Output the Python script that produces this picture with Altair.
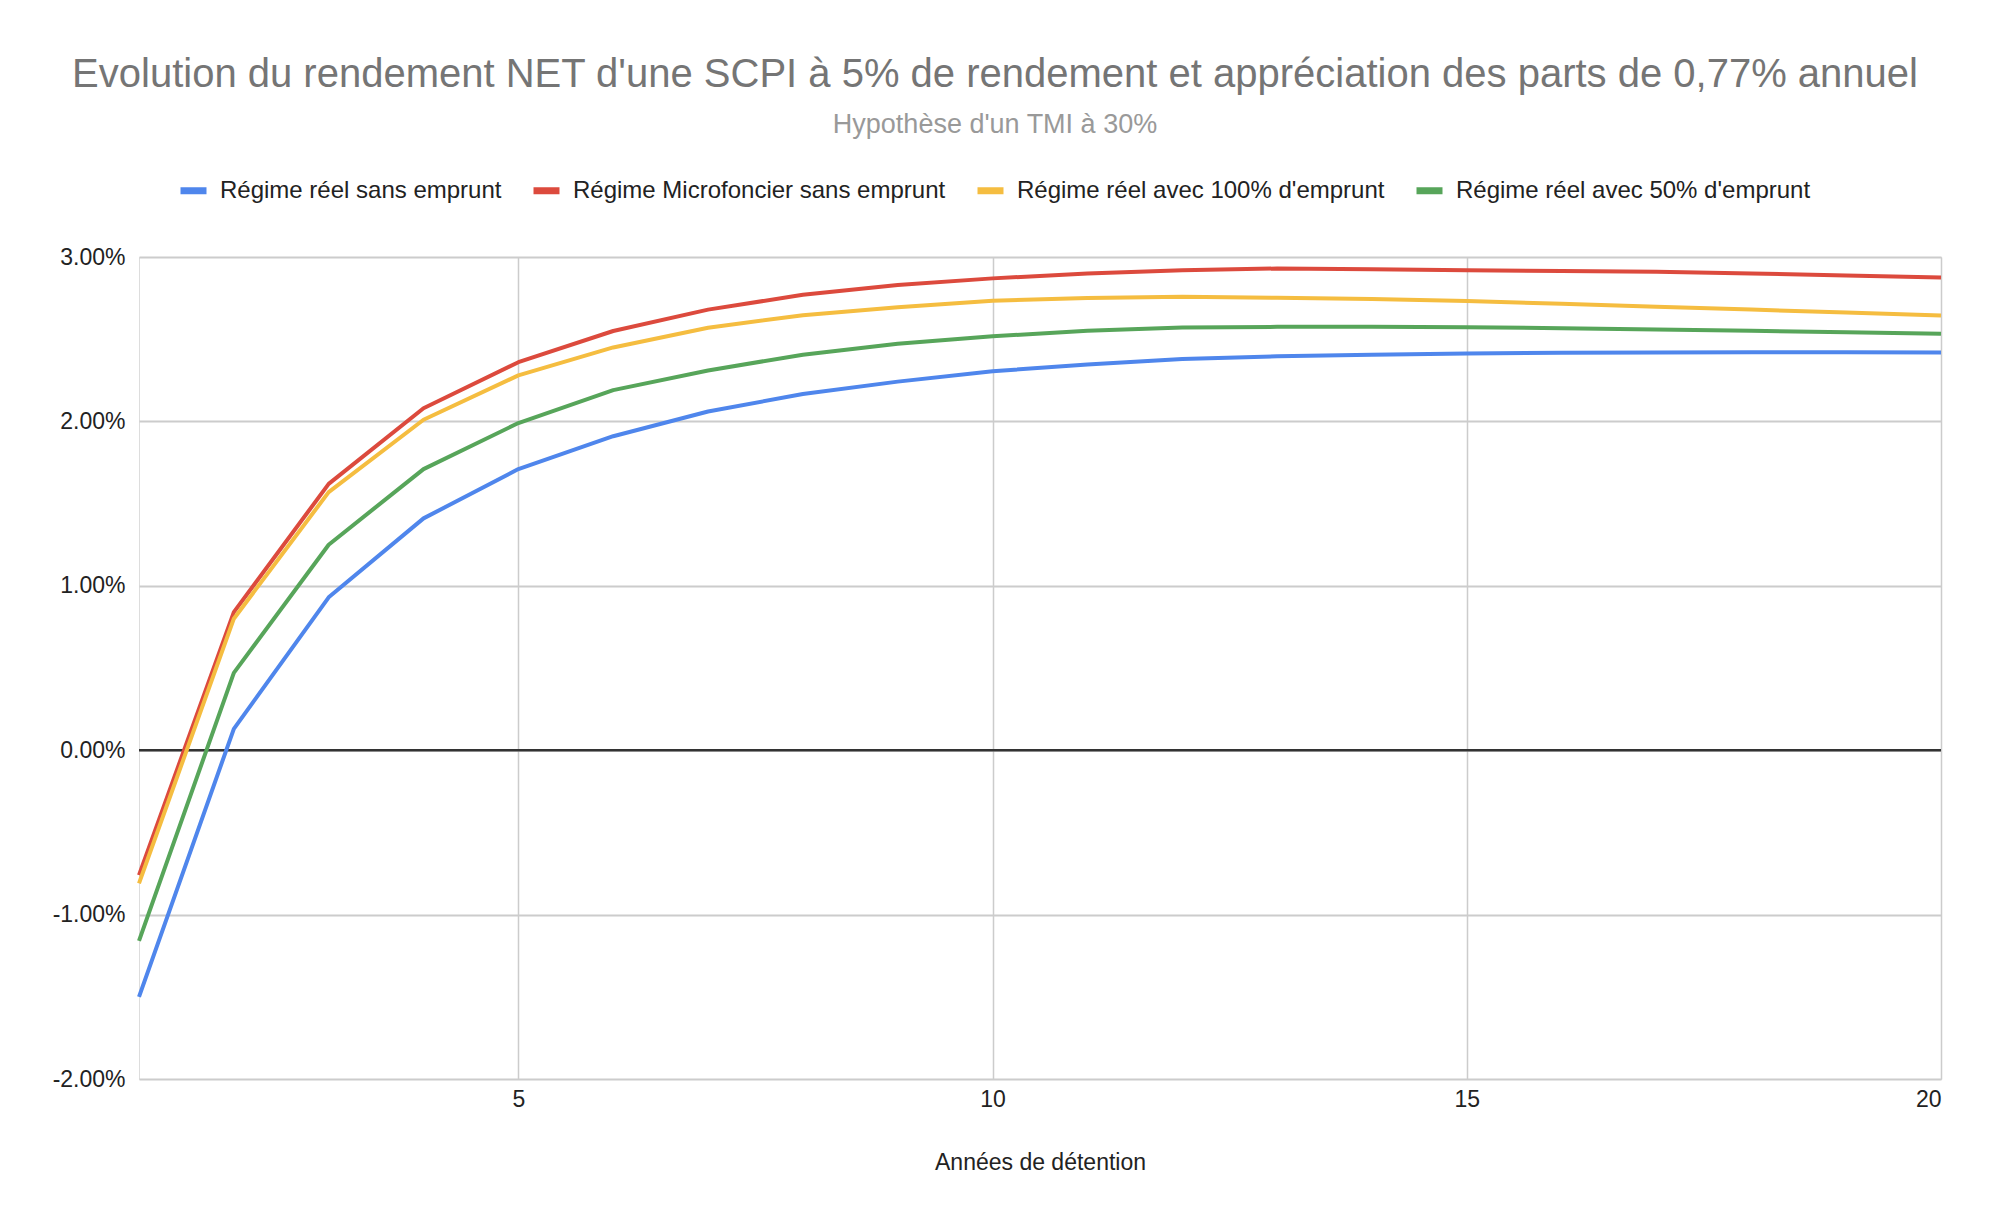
import altair as alt
import pandas as pd

years = list(range(1, 21))

series_names = [
    "Régime réel sans emprunt",
    "Régime Microfoncier sans emprunt",
    "Régime réel avec 100% d'emprunt",
    "Régime réel avec 50% d'emprunt",
]
series_colors = ["#4F86EC", "#DC4A3D", "#F5BD40", "#57A55A"]

reel_sans = [-1.50, 0.13, 0.93, 1.41, 1.71, 1.91, 2.06, 2.167, 2.242, 2.305,
             2.346, 2.38, 2.396, 2.406, 2.413, 2.417, 2.419, 2.42, 2.42, 2.419]
micro_sans = [-0.76, 0.84, 1.62, 2.08, 2.36, 2.55, 2.68, 2.77, 2.83, 2.87,
              2.90, 2.92, 2.93, 2.925, 2.92, 2.915, 2.91, 2.90, 2.888, 2.876]
reel_100 = [-0.81, 0.80, 1.57, 2.01, 2.28, 2.45, 2.57, 2.646, 2.695, 2.734,
            2.75, 2.758, 2.752, 2.744, 2.732, 2.715, 2.697, 2.68, 2.663, 2.644]
reel_50 = [-1.16, 0.47, 1.25, 1.71, 1.99, 2.19, 2.31, 2.406, 2.472, 2.518,
           2.551, 2.571, 2.575, 2.575, 2.573, 2.567, 2.559, 2.551, 2.543, 2.533]

y_ticks = [-0.02, -0.01, 0.0, 0.01, 0.02, 0.03]
x_ticks = [5, 10, 15, 20]

rows = []
for name, vals in zip(series_names, [reel_sans, micro_sans, reel_100, reel_50]):
    for yr, v in zip(years, vals):
        rows.append({"annee": yr, "serie": name, "rendement": v / 100.0})
df = pd.DataFrame(rows)

FONT = "Liberation Sans"

x_scale = alt.Scale(domain=[1, 20], nice=False, zero=False)
y_scale = alt.Scale(domain=[-0.02, 0.03], nice=False)

y_axis = alt.Axis(
    values=y_ticks,
    format=".2%",
    labelExpr="replace(datum.label, '\u2212', '-')",
    title=None,
    grid=True,
    gridColor="#CCCCCC",
    gridWidth=2,
    domain=False,
    ticks=False,
    labelFontSize=23,
    labelColor="#222222",
    labelPadding=14,
    labelFont=FONT,
)

x_axis = alt.Axis(
    values=x_ticks,
    title="Années de détention",
    grid=True,
    gridColor="#CCCCCC",
    gridWidth=1.5,
    domain=False,
    ticks=False,
    labelFontSize=23,
    labelColor="#222222",
    labelPadding=9,
    titleFontSize=23,
    titleFontWeight="normal",
    titleColor="#222222",
    titlePadding=40,
    labelFont=FONT,
    titleFont=FONT,
)

zero = alt.Chart(pd.DataFrame({"z": [0.0]})).mark_rule(
    color="#333333", strokeWidth=2.5
).encode(y=alt.Y("z:Q", scale=y_scale, axis=y_axis))

lines = alt.Chart(df).mark_line(strokeWidth=4, strokeJoin="round").encode(
    x=alt.X("annee:Q", scale=x_scale, axis=x_axis),
    y=alt.Y("rendement:Q", scale=y_scale, axis=y_axis),
    color=alt.Color(
        "serie:N",
        scale=alt.Scale(domain=series_names, range=series_colors),
        sort=series_names,
        legend=alt.Legend(
            title=None,
            orient="none",
            legendX=38,
            legendY=-83,
            direction="horizontal",
            symbolType="stroke",
            symbolSize=676,
            symbolStrokeWidth=7,
            labelFontSize=24,
            labelFont=FONT,
            labelColor="#222222",
            labelLimit=600,
            labelOffset=10,
            columnPadding=17,
        ),
    ),
    detail="serie:N",
)

chart = alt.layer(zero, lines).properties(
    width=1802,
    height=822,
    autosize=alt.AutoSizeParams(type="none"),
    padding={"left": 139, "top": 257, "right": 49, "bottom": 153},
    title=alt.TitleParams(
        text="Evolution du rendement NET d'une SCPI à 5% de rendement et appréciation des parts de 0,77% annuel",
        subtitle="Hypothèse d'un TMI à 30%",
        anchor="middle",
        dx=-45,
        fontSize=40,
        fontWeight="normal",
        color="#757575",
        font=FONT,
        subtitleFont=FONT,
        subtitleFontSize=27,
        subtitleColor="#999999",
        subtitlePadding=17,
        offset=36,
    ),
).configure_view(stroke="transparent", strokeWidth=0).configure(background="white")

chart.save("out.html", embed_options={"renderer": "svg", "actions": False})
